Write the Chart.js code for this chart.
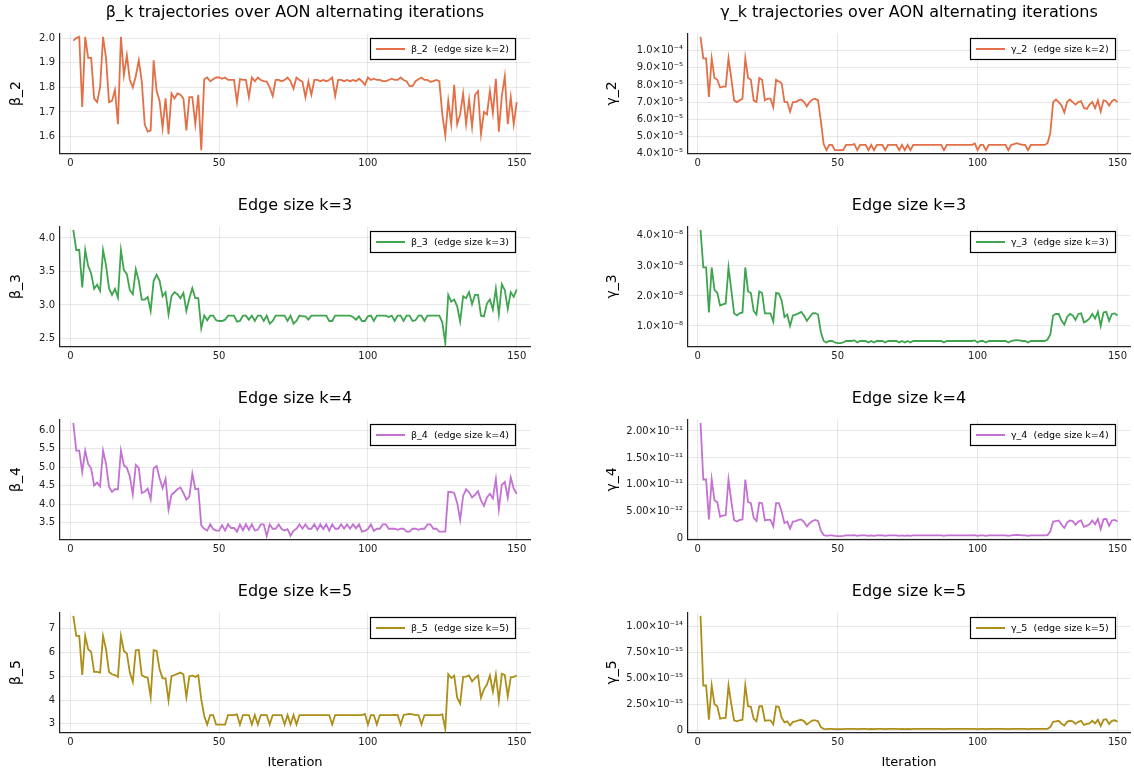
<!DOCTYPE html>
<html>
<head>
<meta charset="utf-8">
<script src="https://cdn.jsdelivr.net/npm/chart.js@4.4.1/dist/chart.umd.min.js"></script>
<style>
  html, body { margin: 0; padding: 0; background: #ffffff; }
  body { width: 1134px; height: 773px; position: relative; overflow: hidden; }
  canvas { position: absolute; }
</style>
</head>
<body>
<script>
// ---------------- DATA ----------------
const iterations = Array.from({ length: 150 }, (_, i) => i + 1);

const beta2 = [
  1.99, 2.0, 2.005, 1.72, 2.005, 1.92, 1.92, 1.755, 1.74, 1.80,
  2.005, 1.92, 1.74, 1.745, 1.79, 1.65, 2.005, 1.85, 1.93, 1.83,
  1.80, 1.845, 1.91, 1.825, 1.65, 1.62, 1.625, 1.91, 1.785, 1.745,
  1.635, 1.755, 1.61, 1.775, 1.755, 1.775, 1.77, 1.755, 1.625, 1.76,
  1.76, 1.65, 1.77, 1.545, 1.833, 1.84, 1.825, 1.833, 1.84, 1.84,
  1.835, 1.84, 1.83, 1.83, 1.83, 1.74, 1.833, 1.83, 1.83, 1.76,
  1.84, 1.825, 1.84, 1.83, 1.825, 1.823, 1.80, 1.765, 1.83, 1.83,
  1.825, 1.83, 1.84, 1.825, 1.795, 1.84, 1.83, 1.823, 1.76, 1.823,
  1.77, 1.83, 1.83, 1.825, 1.83, 1.825, 1.83, 1.84, 1.765, 1.83,
  1.83, 1.825, 1.83, 1.825, 1.83, 1.825, 1.835, 1.825, 1.81, 1.84,
  1.83, 1.835, 1.83, 1.83, 1.825, 1.825, 1.83, 1.835, 1.83, 1.83,
  1.84, 1.83, 1.825, 1.805, 1.805, 1.825, 1.833, 1.84, 1.83, 1.83,
  1.823, 1.825, 1.83, 1.825, 1.69, 1.605, 1.745, 1.65, 1.81, 1.65,
  1.69, 1.775, 1.65, 1.75, 1.64, 1.77, 1.785, 1.61, 1.70, 1.69,
  1.785, 1.695, 1.835, 1.62, 1.765, 1.845, 1.65, 1.76, 1.65, 1.74
];

const beta3 = [
  4.12, 3.82, 3.82, 3.26, 3.82, 3.58, 3.47, 3.24, 3.30, 3.21,
  3.82, 3.59, 3.25, 3.15, 3.24, 3.11, 3.82, 3.52, 3.46, 3.22,
  3.16, 3.53, 3.36, 3.08, 3.08, 3.12, 2.91, 3.36, 3.45, 3.36,
  3.13, 3.19, 2.86, 3.13, 3.19, 3.16, 3.10, 3.18, 2.91, 3.10,
  3.25, 3.10, 3.10, 2.65, 2.84, 2.77, 2.84, 2.84, 2.77, 2.76,
  2.76, 2.78, 2.84, 2.84, 2.84, 2.75, 2.76, 2.84, 2.84, 2.78,
  2.84, 2.76, 2.84, 2.84, 2.76, 2.84, 2.72, 2.76, 2.84, 2.84,
  2.84, 2.84, 2.76, 2.84, 2.72, 2.76, 2.84, 2.83, 2.83, 2.78,
  2.84, 2.84, 2.84, 2.84, 2.84, 2.84, 2.76, 2.76, 2.84, 2.84,
  2.84, 2.84, 2.84, 2.84, 2.82, 2.78, 2.83, 2.76, 2.76, 2.83,
  2.84, 2.76, 2.84, 2.84, 2.84, 2.84, 2.82, 2.84, 2.76, 2.84,
  2.84, 2.76, 2.84, 2.84, 2.76, 2.77, 2.84, 2.84, 2.76, 2.84,
  2.84, 2.84, 2.84, 2.84, 2.74, 2.43, 3.15, 3.05, 3.08, 2.98,
  2.75, 3.13, 3.10, 3.19, 3.01, 3.15, 3.15, 2.84, 2.83, 3.02,
  3.08, 2.93, 3.24, 2.86, 3.31, 3.22, 2.94, 3.19, 3.12, 3.23
];

const beta4 = [
  6.20, 5.45, 5.45, 4.87, 5.45, 5.08, 4.97, 4.50, 4.58, 4.48,
  5.45, 5.09, 4.47, 4.33, 4.40, 4.40, 5.45, 5.05, 4.98, 4.75,
  4.26, 5.06, 4.98, 4.30, 4.33, 4.42, 4.13, 4.97, 5.03, 4.70,
  4.43, 4.68, 3.85, 4.25, 4.32, 4.40, 4.45, 4.30, 4.12, 4.20,
  4.82, 4.40, 4.42, 3.42, 3.33, 3.28, 3.45, 3.32, 3.28, 3.28,
  3.43, 3.28, 3.45, 3.35, 3.35, 3.25, 3.44, 3.29, 3.45, 3.30,
  3.45, 3.28, 3.30, 3.45, 3.45, 3.13, 3.45, 3.33, 3.33, 3.45,
  3.32, 3.28, 3.32, 3.14, 3.28, 3.33, 3.45, 3.33, 3.45, 3.33,
  3.33, 3.45, 3.30, 3.45, 3.32, 3.45, 3.28, 3.45, 3.33, 3.33,
  3.45, 3.33, 3.45, 3.33, 3.45, 3.34, 3.45, 3.25, 3.27, 3.32,
  3.45, 3.27, 3.33, 3.33, 3.45, 3.45, 3.33, 3.33, 3.33, 3.30,
  3.33, 3.33, 3.25, 3.25, 3.33, 3.33, 3.30, 3.33, 3.33, 3.45,
  3.45, 3.33, 3.33, 3.25, 3.25, 3.25, 4.33, 4.32, 4.30, 4.03,
  3.57, 4.22, 4.40, 4.32, 4.18, 4.25, 4.35, 4.10, 3.95, 4.18,
  4.28, 4.15, 4.68, 3.85, 4.52, 4.60, 4.17, 4.72, 4.42, 4.28
];

const beta5 = [
  7.53, 6.69, 6.69, 5.05, 6.69, 6.13, 6.02, 5.18, 5.18, 5.15,
  6.69, 6.13, 5.18, 5.08, 5.05, 4.97, 6.69, 6.06, 5.95, 5.15,
  4.76, 6.09, 6.10, 5.04, 4.97, 4.94, 4.12, 6.09, 6.06, 5.29,
  4.91, 4.91, 3.98, 5.00, 5.05, 5.10, 5.15, 5.08, 4.12, 5.00,
  5.02, 4.97, 5.04, 4.03, 3.33, 2.97, 3.37, 3.37, 2.97, 2.97,
  2.97, 2.97, 3.37, 3.37, 3.37, 3.40, 2.97, 3.37, 3.37, 3.37,
  2.97, 3.37, 2.97, 3.37, 3.37, 3.37, 2.97, 3.37, 3.37, 3.37,
  3.37, 2.97, 3.37, 2.97, 3.37, 2.97, 3.37, 3.37, 3.37, 3.37,
  3.37, 3.37, 3.37, 3.37, 3.37, 3.37, 3.37, 2.97, 3.37, 3.37,
  3.37, 3.37, 3.37, 3.37, 3.37, 3.37, 3.37, 3.37, 3.42, 2.97,
  3.37, 3.37, 2.97, 3.37, 3.37, 3.37, 3.37, 3.37, 3.38, 3.37,
  2.97, 3.37, 3.40, 3.42, 3.40, 3.37, 3.37, 2.97, 3.37, 3.37,
  3.37, 3.37, 3.37, 3.37, 3.40, 2.78, 5.08, 4.92, 5.02, 4.10,
  3.85, 4.97, 4.98, 5.03, 4.78, 4.92, 5.03, 4.10, 4.45, 4.65,
  5.03, 4.35, 5.07, 3.97, 5.10, 5.05, 4.15, 4.95, 4.97, 5.03
];

const gamma2 = [
  10.8e-5, 9.55e-5, 9.55e-5, 7.3e-5, 9.55e-5, 8.4e-5, 8.3e-5, 7.85e-5, 7.9e-5, 7.9e-5,
  9.55e-5, 8.4e-5, 7.1e-5, 7.0e-5, 7.1e-5, 7.2e-5, 9.55e-5, 8.4e-5, 8.3e-5, 7.1e-5,
  7.0e-5, 8.4e-5, 8.3e-5, 7.1e-5, 7.2e-5, 7.2e-5, 6.7e-5, 8.3e-5, 8.2e-5, 8.1e-5,
  7.0e-5, 7.0e-5, 6.45e-5, 7.0e-5, 7.0e-5, 7.1e-5, 7.15e-5, 7.0e-5, 6.75e-5, 7.0e-5,
  7.15e-5, 7.2e-5, 7.1e-5, 5.9e-5, 4.55e-5, 4.2e-5, 4.5e-5, 4.5e-5, 4.2e-5, 4.2e-5,
  4.2e-5, 4.2e-5, 4.5e-5, 4.5e-5, 4.5e-5, 4.55e-5, 4.2e-5, 4.5e-5, 4.5e-5, 4.5e-5,
  4.2e-5, 4.5e-5, 4.2e-5, 4.5e-5, 4.5e-5, 4.5e-5, 4.2e-5, 4.5e-5, 4.5e-5, 4.5e-5,
  4.5e-5, 4.2e-5, 4.5e-5, 4.2e-5, 4.5e-5, 4.2e-5, 4.5e-5, 4.5e-5, 4.5e-5, 4.5e-5,
  4.5e-5, 4.5e-5, 4.5e-5, 4.5e-5, 4.5e-5, 4.5e-5, 4.5e-5, 4.2e-5, 4.5e-5, 4.5e-5,
  4.5e-5, 4.5e-5, 4.5e-5, 4.5e-5, 4.5e-5, 4.5e-5, 4.5e-5, 4.5e-5, 4.6e-5, 4.2e-5,
  4.5e-5, 4.5e-5, 4.2e-5, 4.5e-5, 4.5e-5, 4.5e-5, 4.5e-5, 4.5e-5, 4.5e-5, 4.5e-5,
  4.2e-5, 4.5e-5, 4.55e-5, 4.6e-5, 4.55e-5, 4.5e-5, 4.5e-5, 4.2e-5, 4.5e-5, 4.5e-5,
  4.5e-5, 4.5e-5, 4.5e-5, 4.5e-5, 4.6e-5, 5.2e-5, 7.0e-5, 7.15e-5, 7.0e-5, 6.8e-5,
  6.4e-5, 7.0e-5, 7.15e-5, 7.0e-5, 6.85e-5, 7.0e-5, 7.05e-5, 6.65e-5, 6.6e-5, 6.85e-5,
  7.0e-5, 6.65e-5, 7.1e-5, 6.45e-5, 7.1e-5, 7.05e-5, 6.8e-5, 7.05e-5, 7.15e-5, 7.0e-5
];

const gamma3 = [
  4.2e-8, 2.95e-8, 2.95e-8, 1.45e-8, 2.95e-8, 2.2e-8, 2.1e-8, 1.68e-8, 1.72e-8, 1.75e-8,
  2.95e-8, 2.2e-8, 1.42e-8, 1.35e-8, 1.42e-8, 1.45e-8, 2.95e-8, 2.15e-8, 2.1e-8, 1.5e-8,
  1.38e-8, 2.15e-8, 2.1e-8, 1.42e-8, 1.42e-8, 1.42e-8, 1.15e-8, 2.1e-8, 2.08e-8, 1.85e-8,
  1.3e-8, 1.38e-8, 1.0e-8, 1.35e-8, 1.38e-8, 1.42e-8, 1.47e-8, 1.35e-8, 1.17e-8, 1.3e-8,
  1.42e-8, 1.43e-8, 1.38e-8, 0.8e-8, 0.5e-8, 0.45e-8, 0.5e-8, 0.5e-8, 0.45e-8, 0.43e-8,
  0.43e-8, 0.45e-8, 0.5e-8, 0.5e-8, 0.5e-8, 0.52e-8, 0.45e-8, 0.5e-8, 0.5e-8, 0.5e-8,
  0.45e-8, 0.5e-8, 0.45e-8, 0.5e-8, 0.5e-8, 0.5e-8, 0.45e-8, 0.5e-8, 0.5e-8, 0.5e-8,
  0.5e-8, 0.45e-8, 0.5e-8, 0.45e-8, 0.5e-8, 0.45e-8, 0.5e-8, 0.5e-8, 0.5e-8, 0.5e-8,
  0.5e-8, 0.5e-8, 0.5e-8, 0.5e-8, 0.5e-8, 0.5e-8, 0.5e-8, 0.45e-8, 0.5e-8, 0.5e-8,
  0.5e-8, 0.5e-8, 0.5e-8, 0.5e-8, 0.5e-8, 0.5e-8, 0.5e-8, 0.5e-8, 0.52e-8, 0.45e-8,
  0.5e-8, 0.5e-8, 0.45e-8, 0.5e-8, 0.5e-8, 0.5e-8, 0.5e-8, 0.5e-8, 0.5e-8, 0.5e-8,
  0.45e-8, 0.5e-8, 0.52e-8, 0.53e-8, 0.52e-8, 0.5e-8, 0.5e-8, 0.45e-8, 0.5e-8, 0.5e-8,
  0.5e-8, 0.5e-8, 0.5e-8, 0.5e-8, 0.55e-8, 0.72e-8, 1.35e-8, 1.4e-8, 1.4e-8, 1.18e-8,
  1.05e-8, 1.3e-8, 1.4e-8, 1.35e-8, 1.2e-8, 1.4e-8, 1.42e-8, 1.12e-8, 1.17e-8, 1.25e-8,
  1.4e-8, 1.25e-8, 1.47e-8, 1.0e-8, 1.45e-8, 1.47e-8, 1.17e-8, 1.4e-8, 1.42e-8, 1.35e-8
];

const gamma4 = [
  21.5e-12, 11.0e-12, 11.0e-12, 3.6e-12, 11.0e-12, 7.1e-12, 6.8e-12, 4.1e-12, 4.3e-12, 4.4e-12,
  11.0e-12, 7.0e-12, 3.5e-12, 3.2e-12, 3.5e-12, 3.6e-12, 11.0e-12, 6.8e-12, 6.6e-12, 3.9e-12,
  3.3e-12, 6.7e-12, 6.6e-12, 3.4e-12, 3.5e-12, 3.5e-12, 2.3e-12, 6.6e-12, 6.6e-12, 5.0e-12,
  2.9e-12, 3.2e-12, 1.9e-12, 3.2e-12, 3.3e-12, 3.5e-12, 3.6e-12, 3.1e-12, 2.3e-12, 2.9e-12,
  3.3e-12, 3.5e-12, 3.3e-12, 1.5e-12, 0.7e-12, 0.55e-12, 0.65e-12, 0.65e-12, 0.55e-12, 0.5e-12,
  0.5e-12, 0.55e-12, 0.65e-12, 0.65e-12, 0.65e-12, 0.68e-12, 0.55e-12, 0.65e-12, 0.65e-12, 0.65e-12,
  0.55e-12, 0.65e-12, 0.55e-12, 0.65e-12, 0.65e-12, 0.65e-12, 0.55e-12, 0.65e-12, 0.65e-12, 0.65e-12,
  0.65e-12, 0.55e-12, 0.65e-12, 0.55e-12, 0.65e-12, 0.55e-12, 0.65e-12, 0.65e-12, 0.65e-12, 0.65e-12,
  0.65e-12, 0.65e-12, 0.65e-12, 0.65e-12, 0.65e-12, 0.65e-12, 0.65e-12, 0.55e-12, 0.65e-12, 0.65e-12,
  0.65e-12, 0.65e-12, 0.65e-12, 0.65e-12, 0.65e-12, 0.65e-12, 0.65e-12, 0.65e-12, 0.68e-12, 0.55e-12,
  0.65e-12, 0.65e-12, 0.55e-12, 0.65e-12, 0.65e-12, 0.65e-12, 0.65e-12, 0.65e-12, 0.65e-12, 0.65e-12,
  0.55e-12, 0.65e-12, 0.68e-12, 0.7e-12, 0.68e-12, 0.65e-12, 0.65e-12, 0.55e-12, 0.65e-12, 0.65e-12,
  0.65e-12, 0.65e-12, 0.65e-12, 0.65e-12, 0.7e-12, 1.4e-12, 3.2e-12, 3.3e-12, 3.4e-12, 2.6e-12,
  2.0e-12, 3.0e-12, 3.4e-12, 3.3e-12, 2.6e-12, 3.2e-12, 3.4e-12, 2.2e-12, 2.4e-12, 2.7e-12,
  3.4e-12, 2.7e-12, 3.7e-12, 1.8e-12, 3.6e-12, 3.7e-12, 2.4e-12, 3.4e-12, 3.5e-12, 3.2e-12
];

const gamma5 = [
  11.0e-15, 4.3e-15, 4.3e-15, 1.0e-15, 4.3e-15, 2.5e-15, 2.3e-15, 1.1e-15, 1.15e-15, 1.2e-15,
  4.3e-15, 2.5e-15, 0.95e-15, 0.85e-15, 0.95e-15, 1.0e-15, 4.3e-15, 2.3e-15, 2.25e-15, 1.1e-15,
  0.85e-15, 2.3e-15, 2.3e-15, 0.9e-15, 0.95e-15, 0.95e-15, 0.55e-15, 2.3e-15, 2.25e-15, 1.2e-15,
  0.75e-15, 0.85e-15, 0.45e-15, 0.8e-15, 0.85e-15, 0.95e-15, 1.0e-15, 0.85e-15, 0.55e-15, 0.75e-15,
  0.95e-15, 0.95e-15, 0.85e-15, 0.3e-15, 0.12e-15, 0.1e-15, 0.12e-15, 0.12e-15, 0.1e-15, 0.1e-15,
  0.1e-15, 0.1e-15, 0.12e-15, 0.12e-15, 0.12e-15, 0.13e-15, 0.1e-15, 0.12e-15, 0.12e-15, 0.12e-15,
  0.1e-15, 0.12e-15, 0.1e-15, 0.12e-15, 0.12e-15, 0.12e-15, 0.1e-15, 0.12e-15, 0.12e-15, 0.12e-15,
  0.12e-15, 0.1e-15, 0.12e-15, 0.1e-15, 0.12e-15, 0.1e-15, 0.12e-15, 0.12e-15, 0.12e-15, 0.12e-15,
  0.12e-15, 0.12e-15, 0.12e-15, 0.12e-15, 0.12e-15, 0.12e-15, 0.12e-15, 0.1e-15, 0.12e-15, 0.12e-15,
  0.12e-15, 0.12e-15, 0.12e-15, 0.12e-15, 0.12e-15, 0.12e-15, 0.12e-15, 0.12e-15, 0.13e-15, 0.1e-15,
  0.12e-15, 0.12e-15, 0.1e-15, 0.12e-15, 0.12e-15, 0.12e-15, 0.12e-15, 0.12e-15, 0.12e-15, 0.12e-15,
  0.1e-15, 0.12e-15, 0.13e-15, 0.13e-15, 0.13e-15, 0.12e-15, 0.12e-15, 0.1e-15, 0.12e-15, 0.12e-15,
  0.12e-15, 0.12e-15, 0.12e-15, 0.12e-15, 0.13e-15, 0.3e-15, 0.8e-15, 0.85e-15, 0.9e-15, 0.6e-15,
  0.45e-15, 0.8e-15, 0.9e-15, 0.85e-15, 0.6e-15, 0.8e-15, 0.9e-15, 0.5e-15, 0.6e-15, 0.65e-15,
  0.9e-15, 0.65e-15, 1.0e-15, 0.4e-15, 1.0e-15, 1.05e-15, 0.6e-15, 0.9e-15, 0.95e-15, 0.8e-15
];

// tick values and labels
const xTickValues = [0, 50, 100, 150];
const beta2Ticks = [1.6, 1.7, 1.8, 1.9, 2.0];
const beta2TickLabels = ['1.6', '1.7', '1.8', '1.9', '2.0'];
const beta3Ticks = [2.5, 3.0, 3.5, 4.0];
const beta3TickLabels = ['2.5', '3.0', '3.5', '4.0'];
const beta4Ticks = [3.5, 4.0, 4.5, 5.0, 5.5, 6.0];
const beta4TickLabels = ['3.5', '4.0', '4.5', '5.0', '5.5', '6.0'];
const beta5Ticks = [3, 4, 5, 6, 7];
const beta5TickLabels = ['3', '4', '5', '6', '7'];
const gamma2Ticks = [4e-5, 5e-5, 6e-5, 7e-5, 8e-5, 9e-5, 1e-4];
const gamma2TickLabels = ['4.0×10⁻⁵', '5.0×10⁻⁵', '6.0×10⁻⁵', '7.0×10⁻⁵', '8.0×10⁻⁵', '9.0×10⁻⁵', '1.0×10⁻⁴'];
const gamma3Ticks = [1e-8, 2e-8, 3e-8, 4e-8];
const gamma3TickLabels = ['1.0×10⁻⁸', '2.0×10⁻⁸', '3.0×10⁻⁸', '4.0×10⁻⁸'];
const gamma4Ticks = [0, 5e-12, 1e-11, 1.5e-11, 2e-11];
const gamma4TickLabels = ['0', '5.00×10⁻¹²', '1.00×10⁻¹¹', '1.50×10⁻¹¹', '2.00×10⁻¹¹'];
const gamma5Ticks = [0, 2.5e-15, 5e-15, 7.5e-15, 1e-14];
const gamma5TickLabels = ['0', '2.50×10⁻¹⁵', '5.00×10⁻¹⁵', '7.50×10⁻¹⁵', '1.00×10⁻¹⁴'];

const colorK2 = '#E36F47', colorK3 = '#3EA44E', colorK4 = '#C371D2', colorK5 = '#AC8E18';

// ---------------- RENDER ----------------
Chart.defaults.font.family = '"DejaVu Sans", sans-serif';
Chart.defaults.color = '#222';

const plotTitle = {
  id: 'plotTitle',
  afterDraw(chart, args, opts) {
    const ctx = chart.ctx, a = chart.chartArea;
    ctx.save();
    ctx.font = '16px "DejaVu Sans"';
    ctx.fillStyle = '#000';
    ctx.textAlign = 'center';
    ctx.textBaseline = 'middle';
    ctx.fillText(opts.text, (a.left + a.right) / 2, opts.y);
    ctx.restore();
  }
};

const boxLegend = {
  id: 'boxLegend',
  afterDatasetsDraw(chart) {
    const ds = chart.data.datasets[0];
    const ctx = chart.ctx, a = chart.chartArea;
    ctx.save();
    ctx.font = '9.5px "DejaVu Sans"';
    const tw = ctx.measureText(ds.label).width;
    const w = Math.round(41 + tw + 6), h = 21;
    const x = Math.round(a.right - 15 - w), y = Math.round(a.top + 4.5);
    ctx.fillStyle = '#fff';
    ctx.fillRect(x, y, w, h);
    ctx.strokeStyle = '#000';
    ctx.lineWidth = 1.2;
    ctx.strokeRect(x + 0.5, y + 0.5, w, h);
    ctx.strokeStyle = ds.borderColor;
    ctx.lineWidth = 2;
    ctx.beginPath();
    ctx.moveTo(x + 6, y + h / 2 + 0.5);
    ctx.lineTo(x + 35, y + h / 2 + 0.5);
    ctx.stroke();
    ctx.fillStyle = '#000';
    ctx.textAlign = 'left';
    ctx.textBaseline = 'middle';
    ctx.fillText(ds.label, x + 41, y + h / 2 + 1);
    ctx.restore();
  }
};

const xMin = iterations[0] - 0.03 * (iterations[iterations.length - 1] - iterations[0]);
const xMax = iterations[iterations.length - 1] + 0.03 * (iterations[iterations.length - 1] - iterations[0]);

function panel(p) {
  const cv = document.createElement('canvas');
  cv.width = 567; cv.height = p.h;
  cv.style.left = p.left + 'px';
  cv.style.top = p.top + 'px';
  cv.style.width = '567px';
  cv.style.height = p.h + 'px';
  document.body.appendChild(cv);
  const right = p.col === 1;
  const lo = Math.min(...p.data), hi = Math.max(...p.data);
  const span = hi - lo;
  new Chart(cv, {
    type: 'line',
    data: {
      labels: iterations,
      datasets: [{
        label: p.label, data: p.data, borderColor: p.color, backgroundColor: p.color,
        borderWidth: 1.8, pointRadius: 0, fill: false, tension: 0
      }]
    },
    options: {
      responsive: false, animation: false, devicePixelRatio: 1,
      layout: { padding: { top: 33.5, right: right ? 4 : 37, left: 0, bottom: 0 } },
      plugins: {
        legend: { display: false }, tooltip: { enabled: false },
        plotTitle: { text: p.title, y: 12.5 }
      },
      scales: {
        x: {
          type: 'linear', min: xMin, max: xMax,
          afterBuildTicks: s => { s.ticks = xTickValues.map(v => ({ value: v })); },
          afterFit: s => { s.height = p.h - 153.5; },
          grid: { color: 'rgba(0,0,0,0.09)', drawTicks: false },
          border: { color: '#222', width: 1.2 },
          ticks: { font: { size: 10 }, color: '#222', padding: 4, maxRotation: 0, autoSkip: false,
                   callback: v => String(v) },
          title: p.xTitle ? { display: true, text: p.xTitle, font: { size: 13 }, color: '#000',
                              padding: { top: 0, bottom: 3 } } : { display: false }
        },
        y: {
          min: lo - 0.03 * span, max: hi + 0.03 * span,
          afterBuildTicks: s => { s.ticks = p.ticks.map(v => ({ value: v })); },
          afterFit: s => { s.width = right ? 121 : 60; },
          grid: { color: 'rgba(0,0,0,0.09)', drawTicks: false },
          border: { color: '#222', width: 1.2 },
          ticks: { font: { size: 10 }, color: '#222', padding: 5, autoSkip: false,
                   callback: (v, i) => p.tickLabels[i] },
          title: { display: true, text: p.yTitle, font: { size: 14 }, color: '#000',
                   padding: { top: right ? 37 : 7.6, bottom: 0 } }
        }
      }
    },
    plugins: [plotTitle, boxLegend]
  });
}

const rowTops = [0, 193, 386, 579];
const rowHeights = [193, 193, 193, 194];

panel({ col: 0, left: 0, top: rowTops[0], h: rowHeights[0], data: beta2, ticks: beta2Ticks, tickLabels: beta2TickLabels,
        color: colorK2, label: 'β_2  (edge size k=2)', yTitle: 'β_2', title: 'β_k trajectories over AON alternating iterations' });
panel({ col: 1, left: 567, top: rowTops[0], h: rowHeights[0], data: gamma2, ticks: gamma2Ticks, tickLabels: gamma2TickLabels,
        color: colorK2, label: 'γ_2  (edge size k=2)', yTitle: 'γ_2', title: 'γ_k trajectories over AON alternating iterations' });
panel({ col: 0, left: 0, top: rowTops[1], h: rowHeights[1], data: beta3, ticks: beta3Ticks, tickLabels: beta3TickLabels,
        color: colorK3, label: 'β_3  (edge size k=3)', yTitle: 'β_3', title: 'Edge size k=3' });
panel({ col: 1, left: 567, top: rowTops[1], h: rowHeights[1], data: gamma3, ticks: gamma3Ticks, tickLabels: gamma3TickLabels,
        color: colorK3, label: 'γ_3  (edge size k=3)', yTitle: 'γ_3', title: 'Edge size k=3' });
panel({ col: 0, left: 0, top: rowTops[2], h: rowHeights[2], data: beta4, ticks: beta4Ticks, tickLabels: beta4TickLabels,
        color: colorK4, label: 'β_4  (edge size k=4)', yTitle: 'β_4', title: 'Edge size k=4' });
panel({ col: 1, left: 567, top: rowTops[2], h: rowHeights[2], data: gamma4, ticks: gamma4Ticks, tickLabels: gamma4TickLabels,
        color: colorK4, label: 'γ_4  (edge size k=4)', yTitle: 'γ_4', title: 'Edge size k=4' });
panel({ col: 0, left: 0, top: rowTops[3], h: rowHeights[3], data: beta5, ticks: beta5Ticks, tickLabels: beta5TickLabels,
        color: colorK5, label: 'β_5  (edge size k=5)', yTitle: 'β_5', title: 'Edge size k=5', xTitle: 'Iteration' });
panel({ col: 1, left: 567, top: rowTops[3], h: rowHeights[3], data: gamma5, ticks: gamma5Ticks, tickLabels: gamma5TickLabels,
        color: colorK5, label: 'γ_5  (edge size k=5)', yTitle: 'γ_5', title: 'Edge size k=5', xTitle: 'Iteration' });
</script>
</body>
</html>
